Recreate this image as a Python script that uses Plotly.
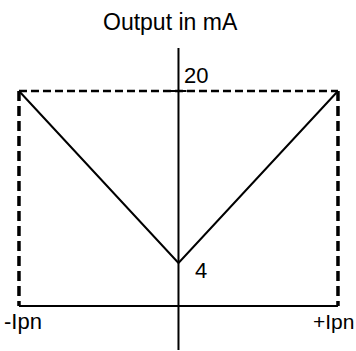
import plotly.graph_objects as go

# current in units of Ipn, output in mA
current = [-1, 0, 1]
output_ma = [20, 4, 20]

# dashed range box: full scale current -> 20 mA
box_x = [-1, 1]
box_top = 20

axis_x = [-1, 1]
axis_y = [-4.1, 24]

tick_x = [-0.07, 0.05]
tick_y = 20

title = "Output in mA"
x_labels = ["-Ipn", "+Ipn"]
y_labels = ["20", "4"]

font = dict(family="Arial", size=22, color="black")

fig = go.Figure()

# dashed box: top edge and the two sides
fig.add_trace(go.Scatter(x=box_x, y=[box_top, box_top], mode="lines",
                         line=dict(color="black", width=2.5, dash="8px,4px")))
for bx in box_x:
    fig.add_trace(go.Scatter(x=[bx, bx], y=[box_top, 0], mode="lines",
                             line=dict(color="black", width=3.5,
                                       dash="10px,5px")))
# axes
fig.add_trace(go.Scatter(x=axis_x, y=[0, 0], mode="lines",
                         line=dict(color="black", width=2)))
fig.add_trace(go.Scatter(x=[0, 0], y=axis_y, mode="lines",
                         line=dict(color="black", width=2)))
fig.add_trace(go.Scatter(x=tick_x, y=[tick_y, tick_y], mode="lines",
                         line=dict(color="black", width=2)))
# output curve
fig.add_trace(go.Scatter(x=current, y=output_ma, mode="lines",
                         line=dict(color="black", width=2)))

annots = [
    dict(x=-0.047, y=26.45, text=title, xanchor="center", size=23),
    dict(x=0.03, y=21.4, text=y_labels[0], xanchor="left", size=22),
    dict(x=0.1, y=3.3, text=y_labels[1], xanchor="left", size=22),
    dict(x=-1.1, y=-1.45, text=x_labels[0], xanchor="left", size=22),
    dict(x=0.84, y=-1.45, text=x_labels[1], xanchor="left", size=21),
]
for a in annots:
    fig.add_annotation(x=a["x"], y=a["y"], text=a["text"], xanchor=a["xanchor"],
                       yanchor="middle", showarrow=False,
                       font=dict(font, size=a["size"]), borderpad=0)

fig.update_layout(
    width=356, height=351,
    margin=dict(l=0, r=0, t=0, b=0),
    paper_bgcolor="white", plot_bgcolor="white",
    showlegend=False,
    xaxis=dict(range=[-1.119, 1.113], visible=False),
    yaxis=dict(range=[-4.186, 28.465], visible=False),
)

fig.write_html("out.html", config={"displayModeBar": False},
               post_script="document.body.style.margin='0';")
